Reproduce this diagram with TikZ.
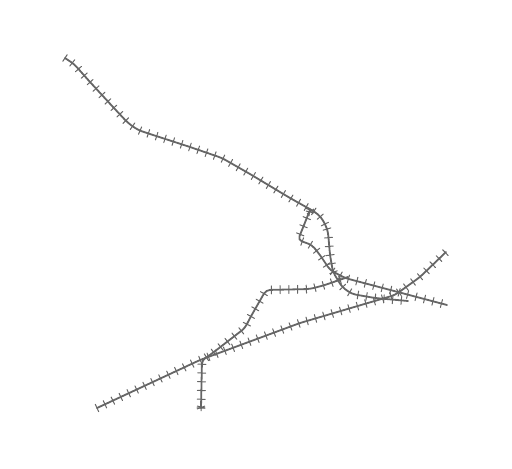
\documentclass[tikz,border=0pt]{standalone}
\usetikzlibrary{decorations.pathreplacing}
\definecolor{rail}{HTML}{666666}
\tikzset{
  railway/.style={draw=rail,line width=1.8pt,line join=round,line cap=round,rounded corners=4pt,
    postaction={draw=rail,line width=1pt,decorate,
      decoration={ticks,segment length=8.75pt,amplitude=4pt}}},
  railknot/.style={draw=rail,line width=1pt}
}
\begin{document}
\begin{tikzpicture}[x=1pt,y=-1pt]
\useasboundingbox (0,0) rectangle (512,469);
\fill[white] (0,0) rectangle (512,469);
\draw[railway] (65,58) -- (74,64) -- (90,82) -- (113,107) -- (128,123) -- (138,130) -- (150,134) -- (190,147) -- (222,158) -- (250,174) -- (290,198) -- (315,212) -- (321,217) -- (326,226) -- (328,232) -- (330,255) -- (333,272) -- (342,287) -- (352,294) -- (375,298) -- (408,301);
\draw[railway] (310,210) -- (298,240) -- (312,245) -- (320,255) -- (330,270) -- (345,278) -- (447,305);
\draw[railway] (97,408) -- (200,360) -- (300,323) -- (395,295) -- (420,277) -- (446,252);
\draw[railway] (201,408) -- (202,360) -- (210,355) -- (245,328) -- (250,318) -- (266,290) -- (310,289) -- (325,285) -- (348,277);
\draw[railknot] (197,406) -- (205,408) (197,409) -- (205,406) (201,404) -- (201,411);
\draw[railknot] (306,211) -- (314,213) (307,214) -- (314,209) (310,208) -- (309,216);
\end{tikzpicture}
\end{document}
